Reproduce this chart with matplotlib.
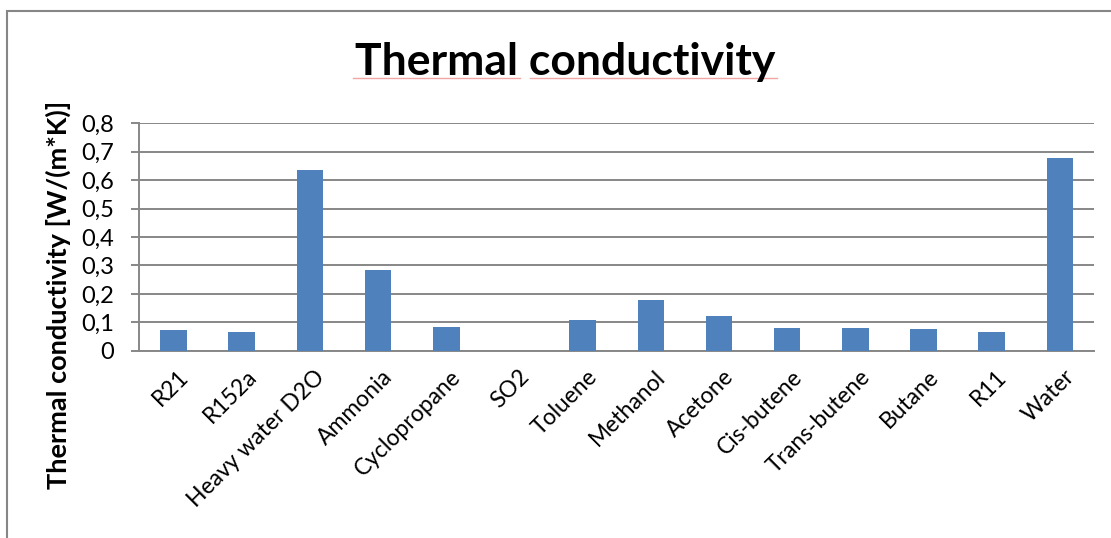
import matplotlib
matplotlib.use("Agg")
import matplotlib.pyplot as plt
from matplotlib.patches import Rectangle
from matplotlib.lines import Line2D
from matplotlib.ticker import FuncFormatter
from matplotlib.transforms import ScaledTranslation

plt.rcParams['font.family'] = ['Lato', 'DejaVu Sans']

# thermal conductivity of working fluids, W/(m*K)
fluids = ["R21", "R152a", "Heavy water D2O", "Ammonia", "Cyclopropane", "SO2",
          "Toluene", "Methanol", "Acetone", "Cis-butene", "Trans-butene",
          "Butane", "R11", "Water"]
conductivity = [0.073, 0.065, 0.636, 0.283, 0.082, 0.0, 0.107, 0.179,
                0.123, 0.080, 0.079, 0.076, 0.065, 0.678]
y_ticks = [0, 0.1, 0.2, 0.3, 0.4, 0.5, 0.6, 0.7, 0.8]

fig = plt.figure(figsize=(11.11, 5.38), dpi=100)
ax = fig.add_axes([0.1255, 0.3481, 0.8592, 0.4227])

# chart frame, only top and left edges visible
fig.add_artist(Rectangle((7 / 1111, -0.1), 1.2, 1 - 11 / 538 + 0.1,
                         transform=fig.transFigure, fill=False,
                         edgecolor="#868686", linewidth=1.5))

x = range(len(fluids))
ax.bar(x, conductivity, width=0.39, color="#4F81BD", zorder=3)

ax.set_xlim(-0.5, len(fluids) - 0.5)
ax.set_ylim(0, 0.8)
ax.set_yticks(y_ticks)
ax.yaxis.set_major_formatter(FuncFormatter(lambda v, p: ("%g" % round(v, 1)).replace(".", ",")))
ax.grid(axis="y", color="#878787", linewidth=1.4, zorder=0)
ax.set_axisbelow(True)

for s in ["top", "right"]:
    ax.spines[s].set_visible(False)
for s in ["left", "bottom"]:
    ax.spines[s].set_color("#878787")
    ax.spines[s].set_linewidth(1.4)

ax.tick_params(axis="y", length=6, width=1.4, color="#878787", labelsize=17, pad=12)
ax.tick_params(axis="x", length=0, labelsize=16.5, pad=11)
ax.set_xticks(list(x))
ax.set_xticklabels(fluids, rotation=45, ha="right", va="top", rotation_mode="anchor")
shift = ScaledTranslation(0.04, 0, fig.dpi_scale_trans)
for lbl in ax.get_xticklabels():
    lbl.set_transform(lbl.get_transform() + shift)

ax.set_ylabel("Thermal conductivity [W/(m*K)]", fontsize=19.5, fontweight="bold")
ax.yaxis.set_label_coords(-0.072, 0.245)

fig.text(0.5086, 0.884, "Thermal conductivity", ha="center", va="center",
         fontsize=32, fontweight="bold")
# spell-check style underline beneath the title words
for x0, x1 in [(353, 520), (530, 777)]:
    fig.add_artist(Line2D([x0 / 1111, x1 / 1111], [1 - 78 / 538] * 2,
                          transform=fig.transFigure, color="#F4A6A6", linewidth=1))

fig.savefig("out.png", dpi=100)
